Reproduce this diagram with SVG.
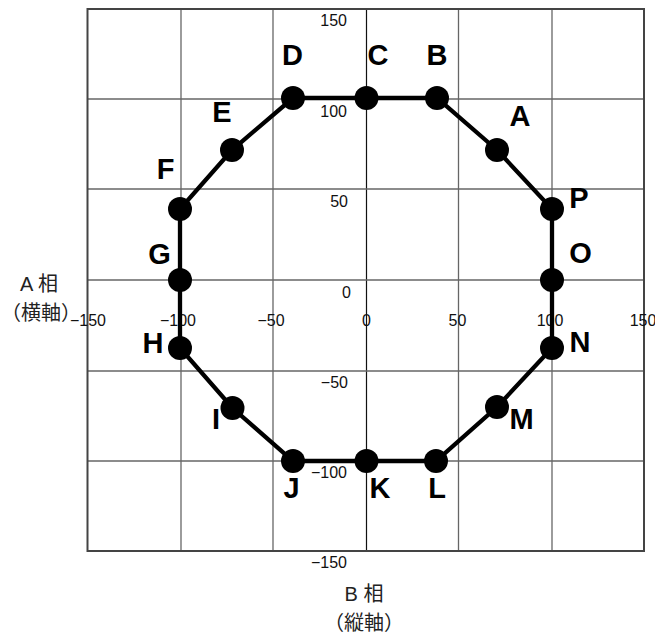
<svg xmlns="http://www.w3.org/2000/svg" width="655" height="637" viewBox="0 0 655 637">
<style>
.grid{stroke:#666;stroke-width:1.3;fill:none}
.axis{stroke:#111;stroke-width:1.2;fill:none}
.frame{stroke:#444;stroke-width:2;fill:none}
.tick{font-family:"Liberation Sans",Arial,sans-serif;font-size:16px;fill:#111}
.lbl{font-family:"Liberation Sans",Arial,sans-serif;font-size:29px;font-weight:bold;fill:#000;text-anchor:middle}
.ttl{font-family:"Liberation Sans","Noto Sans CJK JP",sans-serif;font-size:20px;fill:#222;text-anchor:middle}
.edge{stroke:#000;stroke-width:4.3;fill:none}
.pt{fill:#000}
</style>
<rect width="655" height="637" fill="#fff"/>
<g id="grid">
<line class="grid" x1="181" y1="9" x2="181" y2="551"/>
<line class="grid" x1="273" y1="9" x2="273" y2="551"/>
<line class="axis" x1="366.5" y1="9" x2="366.5" y2="551"/>
<line class="grid" x1="458.5" y1="9" x2="458.5" y2="551"/>
<line class="grid" x1="552" y1="9" x2="552" y2="551"/>
<line class="grid" x1="87.5" y1="99" x2="644" y2="99"/>
<line class="grid" x1="87.5" y1="189" x2="644" y2="189"/>
<line class="grid" x1="87.5" y1="280" x2="644" y2="280"/>
<line class="grid" x1="87.5" y1="371" x2="644" y2="371"/>
<line class="grid" x1="87.5" y1="461" x2="644" y2="461"/>
<rect class="frame" x="87.5" y="9" width="556.5" height="542"/>
</g>
<g id="ticks">
<text class="tick" x="347" y="26" text-anchor="end">150</text>
<text class="tick" x="347" y="117" text-anchor="end">100</text>
<text class="tick" x="348" y="207" text-anchor="end">50</text>
<text class="tick" x="351" y="298" text-anchor="end">0</text>
<text class="tick" x="348" y="388" text-anchor="end">−50</text>
<text class="tick" x="347" y="478" text-anchor="end">−100</text>
<text class="tick" x="347" y="568" text-anchor="end">−150</text>
<text class="tick" x="88" y="326" text-anchor="middle">−150</text>
<text class="tick" x="178" y="326" text-anchor="middle">−100</text>
<text class="tick" x="271" y="326" text-anchor="middle">−50</text>
<text class="tick" x="366.5" y="326" text-anchor="middle">0</text>
<text class="tick" x="457.5" y="326" text-anchor="middle">50</text>
<text class="tick" x="550" y="326" text-anchor="middle">100</text>
<text class="tick" x="643" y="326" text-anchor="middle">150</text>
</g>
<g id="titles">
<text class="ttl" x="39" y="291">A 相</text>
<text class="ttl" x="41" y="320">（横軸）</text>
<text class="ttl" x="364" y="601">B 相</text>
<text class="ttl" x="364" y="630">（縦軸）</text>
</g>
<g id="connectors">
<polygon class="edge" points="497,150 437,98 366.5,98 293,98 232,150 180,209 180,280 180,348 232.5,408 293,461 366.5,461 436,461 497,407 552,348 552,280 552,209"/>
</g>
<g id="node-A"><circle class="pt" cx="497" cy="150" r="12"/><text class="lbl" x="520" y="126">A</text></g>
<g id="node-B"><circle class="pt" cx="437" cy="98" r="12"/><text class="lbl" x="437" y="65">B</text></g>
<g id="node-C"><circle class="pt" cx="366.5" cy="98" r="12"/><text class="lbl" x="378" y="65">C</text></g>
<g id="node-D"><circle class="pt" cx="293" cy="98" r="12"/><text class="lbl" x="292.5" y="65">D</text></g>
<g id="node-E"><circle class="pt" cx="232" cy="150" r="12"/><text class="lbl" x="222" y="122">E</text></g>
<g id="node-F"><circle class="pt" cx="180" cy="209" r="12"/><text class="lbl" x="165.5" y="179">F</text></g>
<g id="node-G"><circle class="pt" cx="180" cy="280" r="12"/><text class="lbl" x="159.5" y="264">G</text></g>
<g id="node-H"><circle class="pt" cx="180" cy="348" r="12"/><text class="lbl" x="153" y="353">H</text></g>
<g id="node-I"><circle class="pt" cx="232.5" cy="408" r="12"/><text class="lbl" x="216" y="429">I</text></g>
<g id="node-J"><circle class="pt" cx="293" cy="461" r="12"/><text class="lbl" x="291.5" y="498">J</text></g>
<g id="node-K"><circle class="pt" cx="366.5" cy="461" r="12"/><text class="lbl" x="380" y="498">K</text></g>
<g id="node-L"><circle class="pt" cx="436" cy="461" r="12"/><text class="lbl" x="437" y="498">L</text></g>
<g id="node-M"><circle class="pt" cx="497" cy="407" r="12"/><text class="lbl" x="521.5" y="429">M</text></g>
<g id="node-N"><circle class="pt" cx="552" cy="348" r="12"/><text class="lbl" x="580" y="352">N</text></g>
<g id="node-O"><circle class="pt" cx="552" cy="280" r="12"/><text class="lbl" x="580.5" y="263">O</text></g>
<g id="node-P"><circle class="pt" cx="552" cy="209" r="12"/><text class="lbl" x="579" y="208">P</text></g>
</svg>
